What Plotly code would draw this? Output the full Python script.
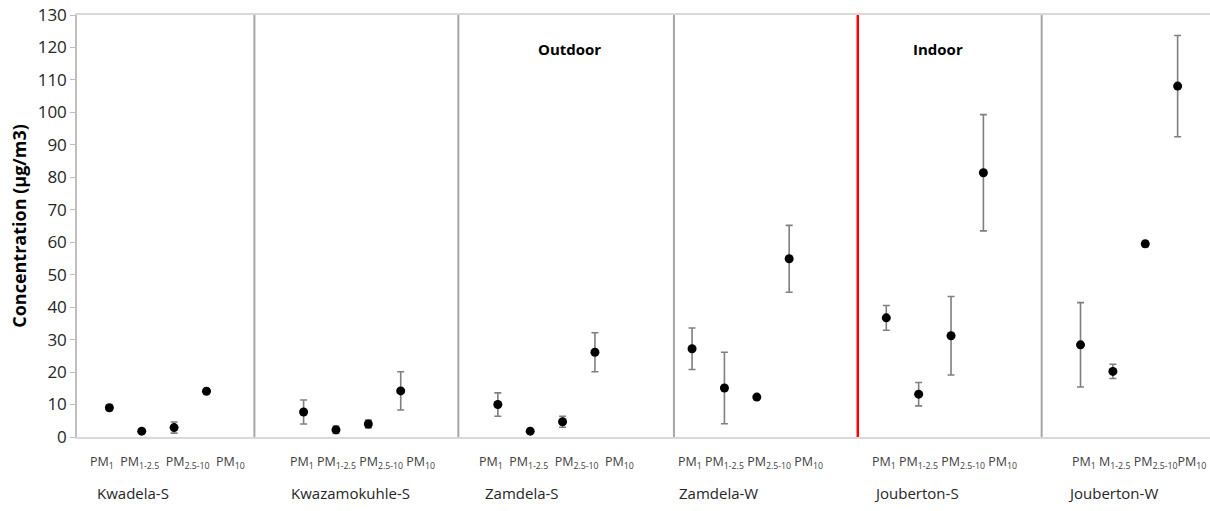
import plotly.graph_objects as go

# ---- data ----
sites = ["Kwadela-S", "Kwazamokuhle-S", "Zamdela-S", "Zamdela-W", "Jouberton-S", "Jouberton-W"]
pm_fractions = ["PM1", "PM1-2.5", "PM2.5-10", "PM10"]
pm_tick_labels = ["PM<sub>1</sub>", "PM<sub>1-2.5</sub>", "PM<sub>2.5-10</sub>", "PM<sub>10</sub>"]
# Jouberton-W second label is partly hidden in the original ("M1-2.5")
jw_tick_labels = ["PM<sub>1</sub>", "M<sub>1-2.5</sub>", "PM<sub>2.5-10</sub>", "PM<sub>10</sub>"]

kwadela_s = [9.0, 1.8, 2.9, 14.1]
kwadela_s_err = [0.8, 0.5, 1.7, 0.6]
kwazamokuhle_s = [7.7, 2.2, 4.0, 14.2]
kwazamokuhle_s_err = [3.7, 1.1, 1.2, 5.9]
zamdela_s = [10.0, 1.8, 4.7, 26.1]
zamdela_s_err = [3.6, 0.4, 1.7, 6.0]
zamdela_w = [27.2, 15.1, 12.3, 54.9]
zamdela_w_err = [6.4, 11.0, 0.5, 10.3]
jouberton_s = [36.7, 13.2, 31.2, 81.4]
jouberton_s_err = [3.8, 3.6, 12.1, 17.9]
jouberton_w = [28.4, 20.2, 59.5, 108.1]
jouberton_w_err = [13.0, 2.2, 0.9, 15.6]

values = [kwadela_s, kwazamokuhle_s, zamdela_s, zamdela_w, jouberton_s, jouberton_w]
errors = [kwadela_s_err, kwazamokuhle_s_err, zamdela_s_err, zamdela_w_err, jouberton_s_err, jouberton_w_err]

y_ticks = list(range(0, 131, 10))

# ---- layout constants ----
SLOTS = 6  # 4 fractions + 2 blank slots per site
FONT = "Open Sans"
divider_x = [5.48, 11.78, 18.44, 29.8]
red_divider_x = 24.12

fig = go.Figure()

for i, (site, vals, errs) in enumerate(zip(sites, values, errors)):
    xs = [SLOTS * i + 1 + j for j in range(len(vals))]
    fig.add_trace(go.Scatter(
        x=xs, y=vals, mode="markers", name=site,
        marker=dict(color="black", size=9),
        error_y=dict(type="data", array=errs, visible=True, color="#7f7f7f",
                     thickness=1.6, width=3.5),
        showlegend=False,
        customdata=pm_fractions,
        hovertemplate=site + " %{customdata}: %{y}<extra></extra>",
    ))

shapes = []
for xv in divider_x:
    shapes.append(dict(type="line", xref="x", yref="paper", x0=xv, x1=xv, y0=0, y1=1,
                       line=dict(color="#a6a6a6", width=2)))
shapes.append(dict(type="line", xref="x", yref="paper", x0=red_divider_x, x1=red_divider_x,
                   y0=0, y1=1, line=dict(color="#ff0000", width=2.5)))

annotations = []
spreads = ["&nbsp;&nbsp;", " ", "&nbsp;&nbsp;", " ", " ", " "]
for i, site in enumerate(sites):
    first_x = SLOTS * i + 1
    center_x = first_x + 1.5
    labels = jw_tick_labels if site == "Jouberton-W" else pm_tick_labels
    sep = spreads[i]
    if site == "Jouberton-W":
        text = labels[0] + " " + labels[1] + " " + labels[2] + labels[3]
    else:
        text = sep.join(labels)
    annotations.append(dict(x=center_x, xshift=10, y=-0.06, xref="x", yref="paper",
                            text=text, showarrow=False, xanchor="center", yanchor="middle",
                            font=dict(family=FONT, size=12.5, color="#404040")))
    annotations.append(dict(x=first_x - 0.45, y=-0.133, xref="x", yref="paper",
                            text=site, showarrow=False, xanchor="left", yanchor="middle",
                            font=dict(family=FONT, size=15, color="#262626")))

annotations.append(dict(x=15.2, y=0.92, xref="x", yref="paper", text="<b>Outdoor</b>",
                        showarrow=False, yanchor="middle",
                        font=dict(family=FONT, size=15, color="black")))
annotations.append(dict(x=26.6, y=0.92, xref="x", yref="paper", text="<b>Indoor</b>",
                        showarrow=False, yanchor="middle",
                        font=dict(family=FONT, size=15, color="black")))

fig.update_layout(
    width=1210, height=511,
    margin=dict(l=77, r=0, t=15, b=74),
    paper_bgcolor="white", plot_bgcolor="white",
    shapes=shapes, annotations=annotations,
    xaxis=dict(range=[0, 35], showgrid=False, zeroline=False, showticklabels=False,
               ticks="", showline=True, mirror=True, linecolor="#d9d9d9", linewidth=2),
    yaxis=dict(range=[0, 130], tickvals=y_ticks, showgrid=False, zeroline=False,
               showline=True, linecolor="#bfbfbf", linewidth=1.5,
               ticks="outside", ticklen=5, tickcolor="#bfbfbf",
               tickfont=dict(family=FONT, size=17, color="#262626"),
               title=dict(text="<b>Concentration (µg/m3)</b>", standoff=6,
                          font=dict(family=FONT, size=18, color="black"))),
)

fig.write_html("out.html")
